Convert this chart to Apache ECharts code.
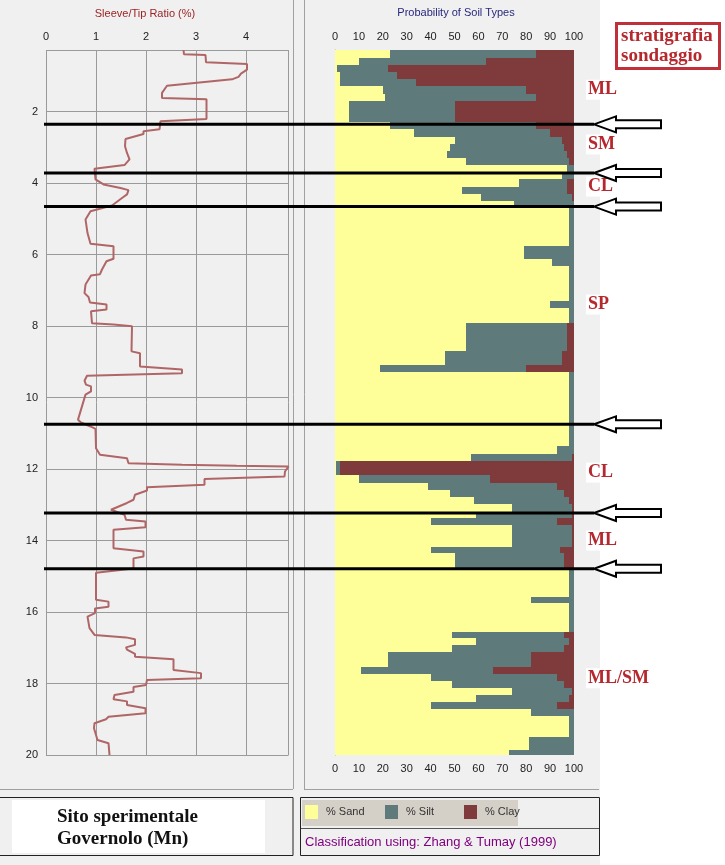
<!DOCTYPE html>
<html><head><meta charset="utf-8">
<script src="https://cdn.jsdelivr.net/npm/echarts@6/dist/echarts.min.js"></script>
<style>
html,body{margin:0;padding:0;background:#fff;}
#c{width:725px;height:865px;background:linear-gradient(to right,#f0f0f0 0px,#f0f0f0 600px,#ffffff 600px);}
</style>
</head><body><div id="c"></div>
<script>
// Sleeve/Tip ratio profile: [depth (m), ratio (%)]
const ratioProfile = [
[0.28,2.75],[0.40,2.76],[0.42,3.19],[0.62,3.20],[0.67,4.02],[0.83,4.02],[0.94,3.90],[1.03,3.85],[1.10,3.72],
[1.28,2.42],[1.48,2.32],[1.62,2.32],[1.66,3.21],[2.21,3.21],[2.27,2.29],[2.50,2.27],[2.55,1.95],[2.63,1.95],
[2.77,1.59],[2.97,1.58],[3.16,1.62],[3.34,1.67],[3.50,1.57],[3.60,0.97],[3.90,0.99],[4.04,1.15],[4.14,1.49],
[4.20,1.65],[4.32,1.62],[4.42,1.52],[4.63,1.32],[4.79,0.89],[5.02,0.79],[5.40,0.83],[5.70,0.89],[5.77,1.35],
[6.12,1.35],[6.19,1.21],[6.42,1.12],[6.55,1.08],[6.59,0.90],[6.84,0.79],[7.08,0.77],[7.19,0.85],[7.34,0.88],
[7.40,1.21],[7.54,1.21],[7.59,0.90],[7.92,0.92],[7.96,1.35],[8.01,1.72],[8.71,1.71],[8.76,1.88],[9.13,1.88],
[9.22,2.72],[9.32,2.72],[9.39,0.82],[9.53,0.77],[9.64,0.80],[9.69,0.90],[9.83,0.90],[9.92,0.79],[10.62,0.64],
[10.70,0.70],[10.81,0.89],[10.88,0.99],[11.42,1.00],[11.60,1.08],[11.70,1.62],[11.84,1.65],[11.88,2.72],
[11.91,3.81],[11.93,4.85],[12.07,4.78],[12.21,4.77],[12.28,3.17],[12.44,3.17],[12.51,2.02],[12.60,2.02],
[12.72,1.78],[12.86,1.75],[12.95,1.62],[13.14,1.30],[13.28,1.57],[13.42,1.60],[13.47,1.99],[13.63,1.99],
[13.70,1.35],[14.22,1.35],[14.31,1.95],[14.45,1.95],[14.50,1.75],[14.78,1.75],[14.90,1.00],[15.66,1.00],
[15.71,1.25],[15.85,1.25],[15.90,0.98],[16.03,0.98],[16.13,0.83],[16.45,0.87],[16.64,0.97],[16.71,1.60],
[16.76,1.78],[16.92,1.78],[16.99,1.60],[17.05,1.62],[17.17,1.78],[17.25,1.78],[17.32,2.55],[17.62,2.55],
[17.71,3.10],[17.85,3.10],[17.90,2.02],[18.04,2.00],[18.10,1.75],[18.23,1.75],[18.32,1.37],[18.44,1.35],
[18.50,1.62],[18.60,1.62],[18.69,1.99],[18.83,1.99],[18.93,1.25],[19.00,1.20],[19.11,0.97],[19.25,0.96],
[19.44,1.00],[19.58,1.03],[19.67,1.25],[20.00,1.27]
];

// Soil type probability layers: top depth (m), % sand, % silt (clay = rest)
const layerTop = [0.28,0.50,0.70,0.90,1.10,1.30,1.50,1.70,2.28,2.50,2.70,2.90,3.10,3.30,3.50,3.70,3.90,4.10,4.30,4.50,
  4.70,5.75,6.14,6.33,7.31,7.50,7.92,8.71,9.10,9.30,11.37,11.57,11.77,12.18,12.39,12.58,12.79,12.98,13.19,13.37,
  13.56,14.17,14.35,14.77,15.57,15.75,16.55,16.73,16.92,17.13,17.53,17.73,17.93,18.13,18.32,18.53,18.72,18.91,19.49,19.86];
const sandPct = [23,10,1,2,2,20,21,6,23,33,50,48,47,55,97,95,77,53,61,75,
  98,79,91,98,90,98,55,46,19,98,93,57,0.4,10,39,48,58,74,59,40,
  74,40,50,98,82,98,49,59,49,22,11,40,49,74,59,40,82,98,81,73];
const siltPct = [61,53,21,24,32,60,63,44,61,57,45,48,50,43,3,5,20,44,38,25,
  2,21,9,2,10,2,42,49,61,2,7,42,1.6,55,54,48,40,25,40,53,
  25,54,46,2,18,2,47,39,47,60,55,53,47,25,39,53,18,2,19,27];
const maxDepth = 20;
const soilNames = ['% Sand','% Silt','% Clay'];

// annotations: stratigraphy boundaries and labels (depths, m)
const boundaryDepths = [2.36, 3.72, 4.66, 10.75, 13.23, 14.79];
const strataNames = ['ML','SM','CL','SP','CL','ML','ML/SM'];
const strataDepths = [1.39, 2.92, 4.10, 7.40, 12.10, 14.00, 17.85];

const ratioTicks = {min:0, max:4.85, interval:1};
const probTicks = {min:0, max:100, interval:10};

const FONT = 'Liberation Sans';
const colors = {sand:'#ffff99', silt:'#5f7a7a', clay:'#7f3b3b'};

function layerData(kind){
  return layerTop.map((t,i)=>{
    const b = i < layerTop.length-1 ? layerTop[i+1] : maxDepth;
    const s = sandPct[i], si = siltPct[i];
    if (kind==='sand') return [t,b,0,s];
    if (kind==='silt') return [t,b,s,s+si];
    return [t,b,s+si,100];
  });
}
function renderRect(params, api){
  const a = api.coord([api.value(2), api.value(0)]);
  const b = api.coord([api.value(3), api.value(1)]);
  const x0 = Math.round(a[0]), x1 = Math.round(b[0]);
  const y0 = Math.round(a[1]), y1 = Math.round(b[1]);
  if (x1 <= x0) return {type:'group', children:[]};
  return {type:'rect', shape:{x:x0,y:y0,width:x1-x0,height:y1-y0}, style:{fill:api.visual('color')}};
}

const chart = echarts.init(document.getElementById('c'), null, {renderer:'canvas'});
const labelStyle = {fontFamily:FONT, fontSize:11, color:'#222'};
const legendLeft = [305, 385, 464];

chart.setOption({
  backgroundColor:'transparent',
  animation:false,
  grid:[
    {left:46, top:50, width:242.5, height:705},
    {left:335, top:50, width:239, height:705}
  ],
  xAxis:[
    {gridIndex:0, type:'value', position:'top', min:ratioTicks.min, max:ratioTicks.max, interval:ratioTicks.interval,
     axisLine:{show:false}, axisTick:{show:false},
     axisLabel:Object.assign({margin:8, showMaxLabel:false}, labelStyle),
     splitLine:{show:true, lineStyle:{color:'#9a9a9a', width:1}}},
    {gridIndex:1, type:'value', position:'top', min:probTicks.min, max:probTicks.max, interval:probTicks.interval,
     axisLine:{show:false}, axisTick:{show:false}, splitLine:{show:false},
     axisLabel:Object.assign({margin:8}, labelStyle)},
    {gridIndex:1, type:'value', position:'bottom', min:probTicks.min, max:probTicks.max, interval:probTicks.interval,
     axisLine:{show:false}, axisTick:{show:false}, splitLine:{show:false},
     axisLabel:Object.assign({margin:8}, labelStyle)}
  ],
  yAxis:[
    {gridIndex:0, type:'value', inverse:true, min:0.28, max:maxDepth, splitNumber:10,
     axisLine:{show:false}, axisTick:{show:false},
     axisLabel:Object.assign({margin:8, showMinLabel:false}, labelStyle),
     splitLine:{show:true, lineStyle:{color:'#9a9a9a', width:1}}},
    {gridIndex:1, type:'value', inverse:true, min:0.28, max:maxDepth,
     axisLine:{show:true, lineStyle:{color:'#a0a0a0'}}, axisTick:{show:false}, axisLabel:{show:false},
     splitLine:{show:false}}
  ],
  legend: soilNames.map((n,i)=>({
    data:[n], left:legendLeft[i], top:805, padding:0, icon:'rect', itemWidth:13, itemHeight:14,
    selectedMode:false,
    textStyle:{fontFamily:FONT, fontSize:11, color:'#333', padding:[0,0,0,3]}
  })),
  series:[
    {name:'Sleeve/Tip', type:'line', xAxisIndex:0, yAxisIndex:0, showSymbol:false, symbol:'none',
     data:ratioProfile.map(p=>[p[1],p[0]]), lineStyle:{color:'#b06666', width:2}, z:3},
    {name:soilNames[0], type:'custom', xAxisIndex:1, yAxisIndex:1, renderItem:renderRect, clip:true,
     encode:{x:[2,3], y:[0,1]}, itemStyle:{color:colors.sand}, data:layerData('sand')},
    {name:soilNames[1], type:'custom', xAxisIndex:1, yAxisIndex:1, renderItem:renderRect, clip:true,
     encode:{x:[2,3], y:[0,1]}, itemStyle:{color:colors.silt}, data:layerData('silt')},
    {name:soilNames[2], type:'custom', xAxisIndex:1, yAxisIndex:1, renderItem:renderRect, clip:true,
     encode:{x:[2,3], y:[0,1]}, itemStyle:{color:colors.clay}, data:layerData('clay')}
  ]
});

// annotations
const g = [];
const gray = '#a0a0a0';
// panel frames
g.push({type:'line', shape:{x1:293.5,y1:0,x2:293.5,y2:789}, style:{stroke:gray, lineWidth:1}});
g.push({type:'line', shape:{x1:304.5,y1:0,x2:304.5,y2:789}, style:{stroke:gray, lineWidth:1}});
g.push({type:'line', shape:{x1:0,y1:789.5,x2:293,y2:789.5}, style:{stroke:gray, lineWidth:1}});
g.push({type:'line', shape:{x1:304,y1:789.5,x2:599,y2:789.5}, style:{stroke:gray, lineWidth:1}});
// titles
g.push({type:'text', x:145, y:14, style:{text:'Sleeve/Tip Ratio (%)', fill:'#9b2323', font:'11px '+FONT, textAlign:'center', textVerticalAlign:'middle'}});
g.push({type:'text', x:456, y:13, style:{text:'Probability of Soil Types', fill:'#28287e', font:'11px '+FONT, textAlign:'center', textVerticalAlign:'middle'}});
// bottom boxes
g.push({type:'rect', shape:{x:-1,y:797.5,width:294,height:58}, style:{fill:'none', stroke:'#222', lineWidth:1}});
g.push({type:'rect', shape:{x:12,y:800,width:253,height:53}, style:{fill:'#ffffff'}});
g.push({type:'text', x:57, y:817, style:{text:'Sito sperimentale', fill:'#111', font:'bold 19px "Liberation Serif"', textVerticalAlign:'middle'}});
g.push({type:'text', x:57, y:839, style:{text:'Governolo (Mn)', fill:'#111', font:'bold 19px "Liberation Serif"', textVerticalAlign:'middle'}});
g.push({type:'rect', shape:{x:300.5,y:797.5,width:299,height:58}, style:{fill:'none', stroke:'#222', lineWidth:1}});
g.push({type:'rect', shape:{x:302,y:800,width:216,height:26}, style:{fill:'#d4d0c8'}, z:-1});
g.push({type:'line', shape:{x1:301,y1:828.5,x2:599,y2:828.5}, style:{stroke:'#555', lineWidth:1}});
g.push({type:'text', x:305, y:842, style:{text:'Classification using: Zhang & Tumay (1999)', fill:'#800080', font:'13px '+FONT, textVerticalAlign:'middle'}});
// stratigraphy box
g.push({type:'rect', shape:{x:616.5,y:23.5,width:103,height:45}, style:{fill:'#fff', stroke:'#c0303a', lineWidth:3}});
g.push({type:'text', x:621, y:36, style:{text:'stratigrafia', fill:'#b5282e', font:'bold 19px "Liberation Serif"', textVerticalAlign:'middle'}});
g.push({type:'text', x:621, y:56, style:{text:'sondaggio', fill:'#b5282e', font:'bold 19px "Liberation Serif"', textVerticalAlign:'middle'}});

const tipX = 594, headX = 616, endX = 661;
boundaryDepths.forEach(d=>{
  const y = chart.convertToPixel({yAxisIndex:0}, d);
  g.push({type:'line', shape:{x1:44,y1:y,x2:tipX,y2:y}, style:{stroke:'#000', lineWidth:3}, z:10});
  g.push({type:'polygon', shape:{points:[[tipX,y],[headX,y-8],[headX,y-4],[endX,y-4],[endX,y+4],[headX,y+4],[headX,y+8]]},
    style:{fill:'#fff', stroke:'#000', lineWidth:2}, z:10});
});
strataNames.forEach((n,i)=>{
  const y = chart.convertToPixel({yAxisIndex:0}, strataDepths[i]);
  g.push({type:'text', x:586, y:y, style:{text:n, fill:'#b5282e', font:'bold 18px "Liberation Serif"', textVerticalAlign:'middle',
    backgroundColor:'#fff', padding:[1,2]}, z:9});
});
chart.setOption({graphic:{elements:g}});
</script>
</body></html>
